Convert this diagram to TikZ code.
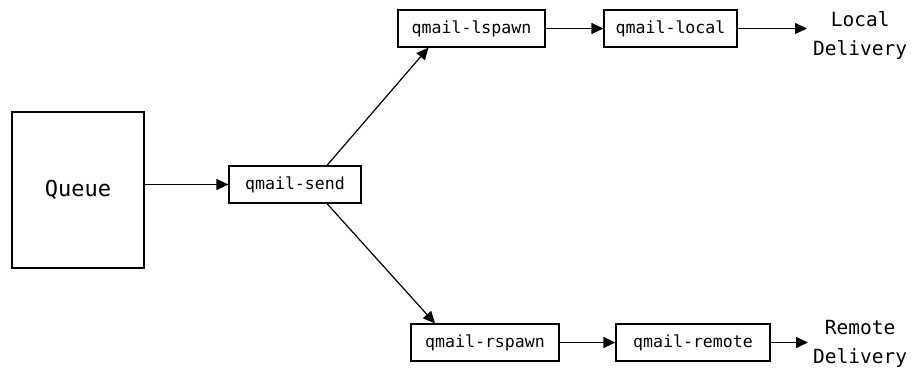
\documentclass[tikz,border=0pt]{standalone}
\usepackage{fontspec}
\setmonofont{DejaVu Sans Mono}
\usetikzlibrary{arrows.meta,calc}
\begin{document}
\begin{tikzpicture}[x=1pt,y=-1pt,
  proc/.style={draw,line width=1.2pt,font=\ttfamily\fontsize{16.6}{18}\selectfont,
    inner sep=0pt,minimum height=37pt},
  outtxt/.style={font=\ttfamily\fontsize{19.5}{29}\selectfont,align=center,inner sep=0pt},
  flow/.style={line width=1.2pt,-{Triangle[length=12pt,width=11pt]}}]
\useasboundingbox (0,0) rectangle (912,369);
% queue store
\node[draw,line width=1.2pt,minimum width=132pt,minimum height=156pt,inner sep=0pt,
  font=\ttfamily\fontsize{22}{24}\selectfont] (queue) at (78,190) {Queue};
% processes
\node[proc,minimum width=132pt] (send) at (295,184.5) {qmail-send};
\node[proc,minimum width=147pt] (lspawn) at (471.5,28.5) {qmail-lspawn};
\node[proc,minimum width=133pt] (local) at (670.5,28.5) {qmail-local};
\node[proc,minimum width=148pt] (rspawn) at (485,342.5) {qmail-rspawn};
\node[proc,minimum width=154pt] (remote) at (693,342.5) {qmail-remote};
% destinations
\node[outtxt,anchor=west] (ldel) at (813,35.5) {Local\\Delivery};
\node[outtxt,anchor=west] (rdel) at (813,343.5) {Remote\\Delivery};
% fork points on qmail-send and entry points on the spawners
\coordinate (sendup) at ($(send.north)+(32,0)$);
\coordinate (senddn) at ($(send.south)+(32,0)$);
\coordinate (lsin) at ($(lspawn.south)+(-43,0)$);
\coordinate (rsin) at ($(rspawn.north)+(-50,0)$);
\coordinate (ldelin) at ($(local.east -| ldel.west)+(-6,0)$);
\coordinate (rdelin) at ($(remote.east -| rdel.west)+(-5,0)$);
% connectors
\draw[flow] (queue.east |- send.west) -- (send.west);
\draw[flow] (sendup) -- (lsin);
\draw[flow] (senddn) -- (rsin);
\draw[flow] (lspawn.east) -- (local.west);
\draw[flow] (local.east) -- (ldelin);
\draw[flow] (rspawn.east) -- (remote.west);
\draw[flow] (remote.east) -- (rdelin);
\end{tikzpicture}
\end{document}
